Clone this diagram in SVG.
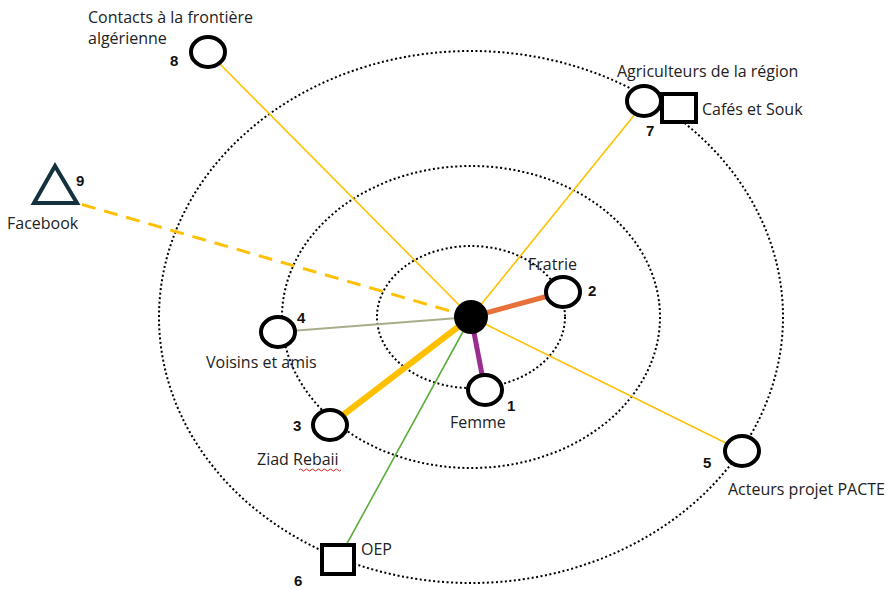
<svg xmlns="http://www.w3.org/2000/svg" width="891" height="590" viewBox="0 0 891 590">
<style>
.ring{fill:none;stroke:#000;stroke-width:2;stroke-dasharray:2 2.5}
.node{fill:#fff;stroke:#000;stroke-width:4}
.lbl{font-family:"Open Sans","Liberation Sans",sans-serif;font-size:16px;fill:#222}
.num{font-family:"Liberation Sans",sans-serif;font-size:15px;font-weight:bold;fill:#111}
.thin{stroke:#FFC000;stroke-width:1.6;fill:none}
</style>
<rect width="891" height="590" fill="#fff"/>
<g id="rings">
<ellipse class="ring" cx="471" cy="317" rx="312" ry="266"/>
<ellipse class="ring" cx="471" cy="317" rx="189" ry="151"/>
<ellipse class="ring" cx="471" cy="317" rx="94" ry="71"/>
</g>
<g id="connectors">
<line class="thin" x1="471" y1="317" x2="208" y2="52"/>
<line class="thin" x1="471" y1="317" x2="640" y2="108"/>
<line class="thin" x1="471" y1="317" x2="742" y2="451"/>
<line x1="471" y1="317" x2="338" y2="560" stroke="#5AAE3C" stroke-width="1.6"/>
<line x1="471" y1="317" x2="278" y2="332" stroke="#A8AE8C" stroke-width="2"/>
<line x1="471" y1="317" x2="77" y2="203" stroke="#FFC000" stroke-width="3" stroke-dasharray="14 9"/>
<line x1="471" y1="317" x2="330" y2="425" stroke="#FFC000" stroke-width="6"/>
<line x1="471" y1="317" x2="563" y2="292" stroke="#E8713A" stroke-width="5"/>
<line x1="471" y1="317" x2="485" y2="390" stroke="#9B2D91" stroke-width="5"/>
</g>
<g id="center"><circle cx="471" cy="317" r="17" fill="#000"/></g>
<g id="n1"><ellipse class="node" cx="485" cy="390" rx="17" ry="15"/><text class="num" x="507" y="411">1</text><text class="lbl" x="450" y="428">Femme</text></g>
<g id="n2"><ellipse class="node" cx="563" cy="292" rx="17" ry="15"/><text class="num" x="588" y="296">2</text><text class="lbl" x="528" y="270">Fratrie</text></g>
<g id="n3"><ellipse class="node" cx="330" cy="425" rx="17" ry="15"/><text class="num" x="293" y="431">3</text><text class="lbl" x="257" y="465">Ziad Rebaii</text><path d="M299 470 q1.5 -2 3 0 t3 0 t3 0 t3 0 t3 0 t3 0 t3 0 t3 0 t3 0 t3 0 t3 0 t3 0 t3 0 t3 0" fill="none" stroke="#E02020" stroke-width="1"/></g>
<g id="n4"><ellipse class="node" cx="278" cy="332" rx="17" ry="15"/><text class="num" x="297" y="323">4</text><text class="lbl" x="206" y="368">Voisins et amis</text></g>
<g id="n5"><ellipse class="node" cx="742" cy="451" rx="17" ry="15"/><text class="num" x="703" y="468">5</text><text class="lbl" x="728" y="495">Acteurs projet PACTE</text></g>
<g id="n6"><rect class="node" x="322" y="545" width="32" height="29"/><text class="num" x="294" y="586">6</text><text class="lbl" x="361" y="555">OEP</text></g>
<g id="n7"><ellipse class="node" cx="644" cy="101" rx="17" ry="15"/><rect class="node" x="662" y="94" width="34" height="28"/><text class="num" x="646" y="136">7</text><text class="lbl" x="617" y="77">Agriculteurs de la région</text><text class="lbl" x="702" y="115">Cafés et Souk</text></g>
<g id="n8"><ellipse class="node" cx="208" cy="52" rx="17" ry="15"/><text class="num" x="170" y="66">8</text><text class="lbl" x="88" y="23">Contacts à la frontière</text><text class="lbl" x="88" y="44">algérienne</text></g>
<g id="n9"><polygon points="55,166 34,203 77,203" fill="#fff" stroke="#14313D" stroke-width="4" stroke-linejoin="miter"/><text class="num" x="76" y="186">9</text><text class="lbl" x="7" y="229">Facebook</text></g>
</svg>
